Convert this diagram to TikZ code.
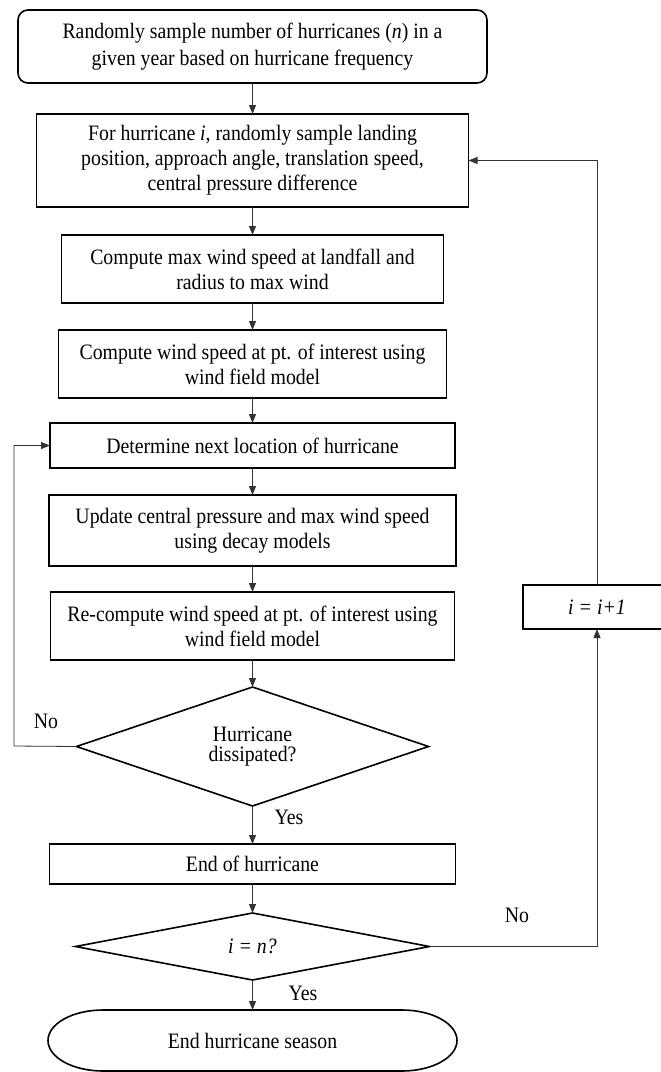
\documentclass[tikz,border=0pt]{standalone}
\usepackage{fontspec}
\setmainfont{Liberation Serif}[FakeStretch=0.9]
\usetikzlibrary{positioning,shapes.geometric,arrows.meta}
\tikzstyle{paso} = [draw, line width=1.6pt, rectangle, inner sep=0pt, outer sep=0pt, align=center, font=\fontsize{22}{25}\selectfont]
\tikzstyle{decision} = [draw, line width=1.6pt, diamond, inner sep=0pt, outer sep=0pt, align=center, font=\fontsize{22}{20}\selectfont]
\tikzstyle{flecha} = [line width=0.8pt, draw=black!80, -{Triangle[length=9pt,width=7pt]}]
\tikzstyle{etiqueta} = [inner sep=0pt, font=\fontsize{22}{25}\selectfont]

\begin{document}
\begin{tikzpicture}[x=1pt, y=1pt]
		\useasboundingbox (0,0) rectangle (661,-1072);
		\node[paso, rounded corners=10pt, minimum width=469pt, minimum height=73pt, font=\fontsize{22}{27}\selectfont] (inicio) at (252.5,-46.5) {Randomly sample number of hurricanes (\textit{n}) in a\\given year based on hurricane frequency};
		\node[paso, minimum width=432pt, minimum height=93pt, below=31pt of inicio] (muestreo) {For hurricane \textit{i}, randomly sample landing\\position, approach angle, translation speed,\\central pressure difference};
		\node[paso, minimum width=382pt, minimum height=68pt, below=28pt of muestreo] (vmax) {Compute max wind speed at landfall and\\radius to max wind};
		\node[paso, minimum width=388pt, minimum height=68pt, below=27pt of vmax] (viento) {Compute wind speed at pt. of interest using\\wind field model};
		\node[paso, minimum width=405pt, minimum height=45pt, below=25pt of viento] (siguiente) {Determine next location of hurricane};
		\node[paso, minimum width=407pt, minimum height=71pt, below=27pt of siguiente] (decaimiento) {Update central pressure and max wind speed\\using decay models};
		\node[paso, minimum width=404pt, minimum height=68pt, below=26pt of decaimiento] (recalculo) {Re-compute wind speed at pt. of interest using\\wind field model};
		\node[decision, shape aspect=3, minimum width=352pt, minimum height=119pt, below=27pt of recalculo] (disipado) {Hurricane\\dissipated?};
		\node[paso, minimum width=406pt, minimum height=40pt, below=38pt of disipado] (fin) {End of hurricane};
		\node[decision, shape aspect=5, minimum width=354pt, minimum height=67pt, below=29pt of fin] (control) {\textit{i = n?}};
		\node[inner sep=0pt, outer sep=0pt, minimum width=409pt, minimum height=61pt, below=30pt of control, font=\fontsize{22}{25}\selectfont] (temporada) {End hurricane season};
		\draw[line width=1.6pt] ([xshift=55pt]temporada.north west) -- ([xshift=-55pt]temporada.north east)
			arc[start angle=90, end angle=-90, x radius=55pt, y radius=30.5pt]
			-- ([xshift=55pt]temporada.south west)
			arc[start angle=270, end angle=90, x radius=55pt, y radius=30.5pt] -- cycle;
		\node[paso, minimum width=148pt, minimum height=44pt] (contador) at (597,-607) {\textit{i = i+1}};
		\coordinate (retorno) at (14,-746);
		% flujo principal
		\draw[flecha] (inicio) -- (muestreo);
		\draw[flecha] (muestreo) -- (vmax);
		\draw[flecha] (vmax) -- (viento);
		\draw[flecha] (viento) -- (siguiente);
		\draw[flecha] (siguiente) -- (decaimiento);
		\draw[flecha] (decaimiento) -- (recalculo);
		\draw[flecha] (recalculo) -- (disipado);
		\draw[flecha] (disipado) -- (fin);
		\draw[flecha] (fin) -- (control);
		\draw[flecha] (control) -- (temporada.north);
		% lazos
		\draw[flecha] (disipado.west) -- (retorno) |- (siguiente.west);
		\draw[flecha] (control.east) -| (contador.south);
		\draw[flecha] (contador.north) |- (muestreo.east);
		\node[etiqueta] (no1) at (46,-721) {No};
		\node[etiqueta] (si1) at (289,-817) {Yes};
		\node[etiqueta] (no2) at (517,-915) {No};
		\node[etiqueta] (si2) at (303,-993) {Yes};
	\end{tikzpicture}
\end{document}
